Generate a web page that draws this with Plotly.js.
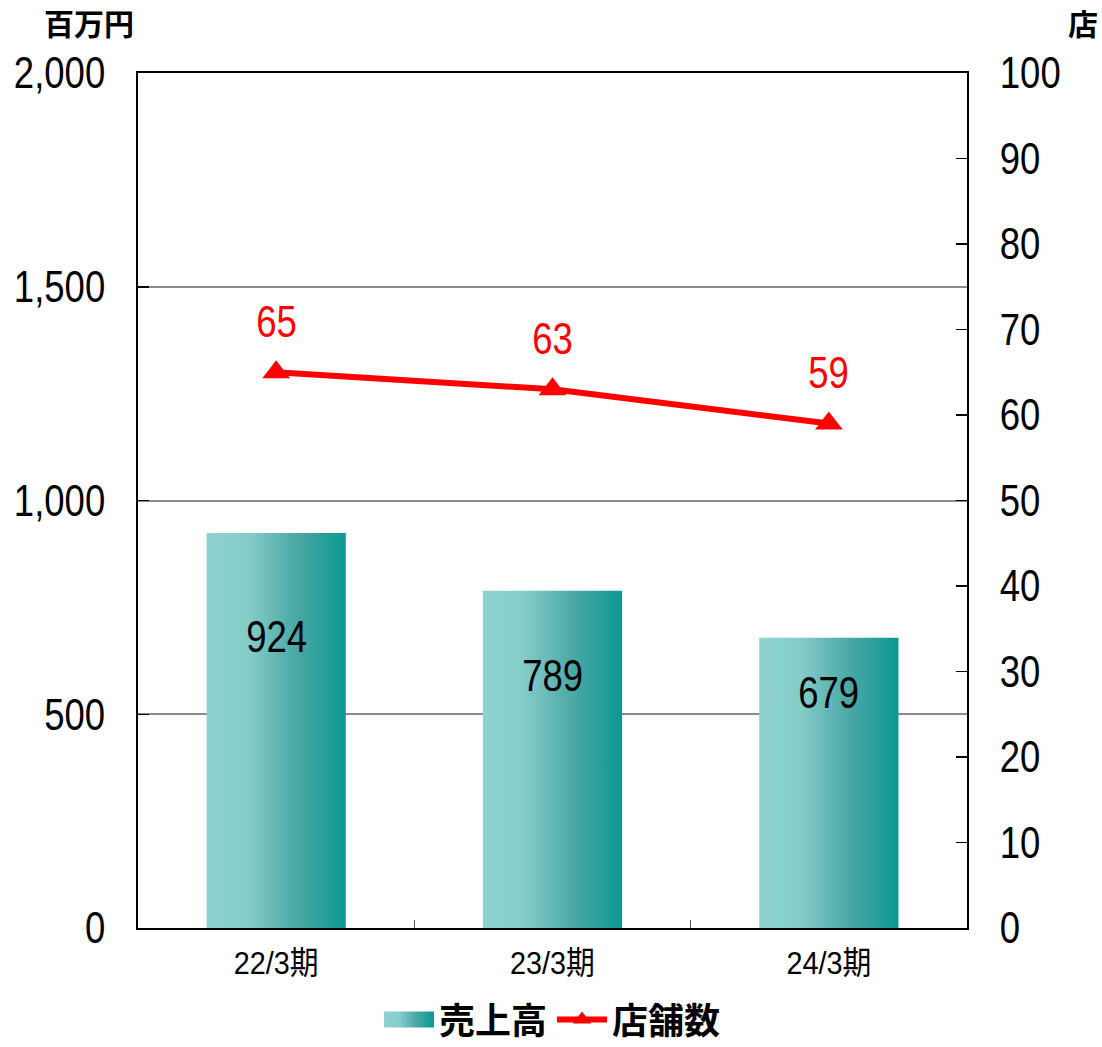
<!DOCTYPE html>
<html>
<head>
<meta charset="utf-8">
<script src="https://cdn.plot.ly/plotly-3.0.1.min.js"></script>
<style>html,body{margin:0;padding:0;background:#fff;}#chart{width:1102px;height:1047px;}</style>
</head>
<body>
<div id="chart"></div>
<script>
const categories = ['22/3期', '23/3期', '24/3期'];
const sales = [924, 789, 679];
const stores = [65, 63, 59];
const salesName = '売上高';
const storesName = '店舗数';
const leftUnit = '百万円';
const rightUnit = '店';

const NUM_FONT = '"Liberation Sans", Arial, "Noto Sans CJK JP", sans-serif';
const CJK_FONT = '"Noto Sans CJK JP", sans-serif';
const barHalf = 0.252;
const gradient = [[0, '#8fd3d1'], [0.3, '#84ccca'], [0.65, '#4aa8a5'], [1, '#0b9893']];

const traces = [];
categories.forEach((c, i) => {
  const v = sales[i];
  traces.push({
    type: 'scatter',
    x: [i - barHalf, i + barHalf, i + barHalf, i - barHalf, i - barHalf],
    y: [0, 0, v, v, 0],
    mode: 'lines',
    line: {width: 0},
    fill: 'toself',
    fillgradient: {type: 'horizontal', colorscale: gradient},
    name: salesName,
    legendgroup: 'sales',
    showlegend: i === 0,
    hoverinfo: 'skip'
  });
});
traces.push({
  type: 'scatter',
  x: categories.map((c, i) => i),
  y: stores,
  yaxis: 'y2',
  mode: 'lines+markers',
  line: {color: '#ff0000', width: 6},
  marker: {symbol: 'triangle-up', size: 24, color: '#ff0000'},
  name: storesName
});

const W = 1102, H = 1047, M = {l: 138, r: 135, t: 73, b: 119, autoexpand: false};
const pw = W - M.l - M.r, ph = H - M.t - M.b;

const annotations = [];
const barLabelShift = [-104, -85, -55];
sales.forEach((v, i) => {
  annotations.push({
    x: i, y: v, xref: 'x', yref: 'y', text: String(v), showarrow: false,
    yanchor: 'middle', yshift: barLabelShift[i],
    font: {family: NUM_FONT, size: 44, color: '#000'}
  });
});
stores.forEach((v, i) => {
  annotations.push({
    x: i, y: v, xref: 'x', yref: 'y2', text: String(v), showarrow: false,
    yanchor: 'middle', yshift: 51,
    font: {family: NUM_FONT, size: 44, color: '#ff0000'}
  });
});
annotations.push({
  x: (42 - M.l) / pw, y: (H - M.b - 22) / ph, xref: 'paper', yref: 'paper',
  text: '<b>' + leftUnit + '</b>', showarrow: false,
  xanchor: 'left', yanchor: 'middle', font: {family: CJK_FONT, size: 30, color: '#000'}
});
annotations.push({
  x: (1100 - M.l) / pw, y: (H - M.b - 22) / ph, xref: 'paper', yref: 'paper',
  text: '<b>' + rightUnit + '</b>', showarrow: false,
  xanchor: 'right', yanchor: 'middle', font: {family: CJK_FONT, size: 30, color: '#000'}
});

const layout = {
  width: W, height: H,
  margin: M,
  paper_bgcolor: '#fff', plot_bgcolor: '#fff',
  showlegend: true,
  legend: {
    orientation: 'h', x: 0.5, xanchor: 'center', y: -0.072, yanchor: 'top',
    font: {family: CJK_FONT, size: 36, color: '#000', weight: 'bold'},
    itemwidth: 50, traceorder: 'normal'
  },
  xaxis: {
    range: [-0.5, 2.5],
    tickvals: categories.map((c, i) => i), ticktext: categories,
    ticks: '', showgrid: false, zeroline: false,
    showline: true, linecolor: '#000', linewidth: 2, mirror: true,
    tickfont: {family: NUM_FONT, size: 32, color: '#000'},
    ticklabelstandoff: 6,
    minor: {tickvals: [0.5, 1.5], ticks: 'inside', ticklen: 8, tickcolor: '#555', tickwidth: 1.5, showgrid: false}
  },
  yaxis: {
    range: [0, 2000], tickvals: [0, 500, 1000, 1500, 2000], tickformat: ',',
    ticks: 'inside', ticklen: 11, tickcolor: '#000', tickwidth: 1.5,
    showgrid: true, gridcolor: '#8a8a8a', gridwidth: 2, zeroline: false,
    showline: true, linecolor: '#000', linewidth: 2,
    tickfont: {family: NUM_FONT, size: 44, color: '#000'},
    ticklabelstandoff: 22
  },
  yaxis2: {
    range: [0, 100], dtick: 10, overlaying: 'y', side: 'right',
    ticks: 'inside', ticklen: 11, tickcolor: '#000', tickwidth: 1.5,
    showgrid: false, zeroline: false,
    showline: true, linecolor: '#000', linewidth: 2,
    tickfont: {family: NUM_FONT, size: 44, color: '#000'},
    ticklabelstandoff: 22
  },
  annotations: annotations
};

function condenseEl(t, s) {
  const bb = t.getBBox();
  const anchor = t.getAttribute('text-anchor') || 'start';
  let p = bb.x;
  if (anchor === 'middle') p = bb.x + bb.width / 2;
  else if (anchor === 'end') p = bb.x + bb.width;
  const prev = t.getAttribute('transform') || '';
  t.setAttribute('transform', prev + ' translate(' + p + ',0) scale(' + s + ',1) translate(' + (-p) + ',0)');
}

const gd = document.getElementById('chart');
Plotly.newPlot(gd, traces, layout, {displayModeBar: false, staticPlot: true}).then(() => {
  gd.querySelectorAll('.ytick text, .y2tick text').forEach(t => condenseEl(t, 0.83));
  gd.querySelectorAll('.xtick text').forEach(t => condenseEl(t, 0.9));
  gd.querySelectorAll('.annotation-text').forEach(t => {
    if (/^\d+$/.test(t.textContent)) condenseEl(t, 0.83);
  });
  gd.querySelectorAll('.legend .legendfill path').forEach(p => {
    const bb = p.getBBox();
    if (bb.width > 0) p.setAttribute('d', 'M' + bb.x + ',-8h' + bb.width + 'v16h-' + bb.width + 'z');
  });
});
</script>
</body>
</html>
